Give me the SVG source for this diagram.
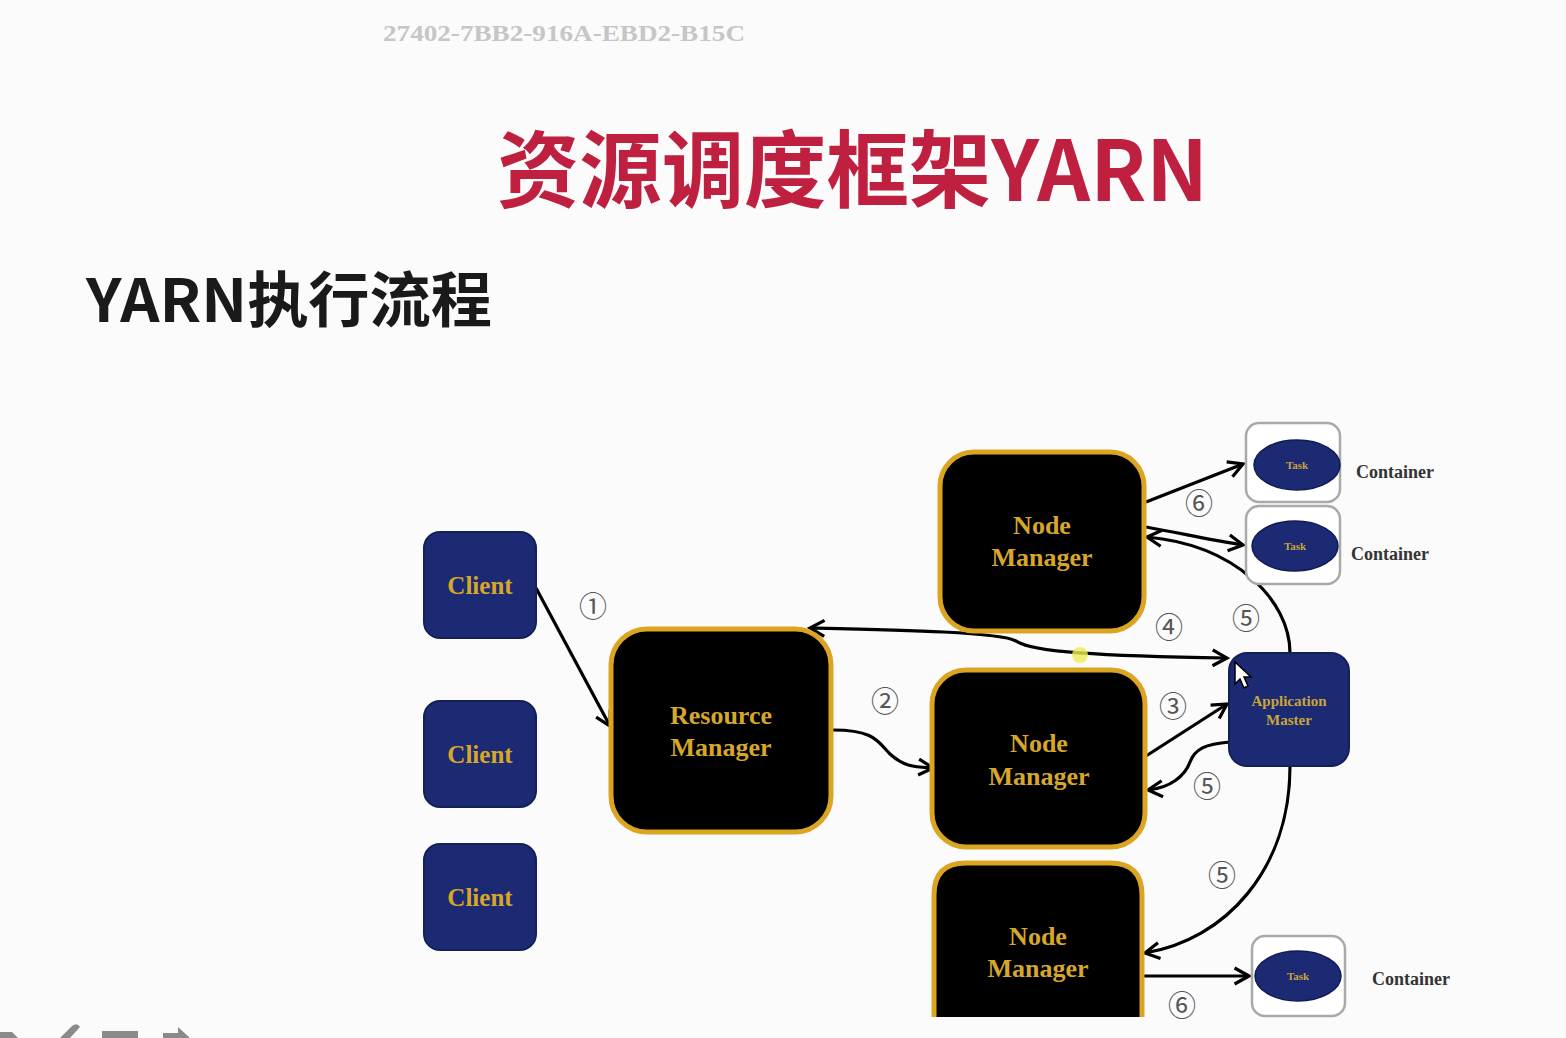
<svg xmlns="http://www.w3.org/2000/svg" width="1566" height="1038" viewBox="0 0 1566 1038">
<style>
.serif{font-family:"Liberation Serif","Times New Roman",serif;font-weight:bold}
.client rect{fill:#1b2a72;stroke:#142058;stroke-width:2}
.client text{fill:#d6a72a;font-size:25px;text-anchor:middle}
.nm rect{fill:#000;stroke:#dba522;stroke-width:5}
.nm text{fill:#d6a72a;font-size:26px;text-anchor:middle}
.cont rect{fill:#fff;stroke:#a9a9a9;stroke-width:2.5}
.cont ellipse{fill:#1b2a72;stroke:#101c55;stroke-width:1.5}
.task{fill:#c9a53a;font-size:11px;text-anchor:middle}
.clabel{fill:#333;font-size:18px}
.num{font-family:"Noto Sans CJK SC","DejaVu Sans",sans-serif;font-size:28px;fill:#555;text-anchor:middle}
.conn path{fill:none;stroke:#000;stroke-width:3.2}
</style>
<defs>
<marker id="ah" viewBox="0 0 12 12" refX="10" refY="6" markerWidth="6" markerHeight="6" markerUnits="strokeWidth" orient="auto-start-reverse">
<path d="M1,1 L10,6 L1,11" fill="none" stroke="#000" stroke-width="2"/>
</marker>
</defs>
<rect width="1566" height="1038" fill="#fbfbfb"/>
<text x="383" y="41" class="serif" font-size="24" fill="#c6c6c6" textLength="362" lengthAdjust="spacingAndGlyphs">27402-7BB2-916A-EBD2-B15C</text>
<text x="497" y="201" font-family="'Noto Sans CJK SC',sans-serif" font-weight="bold" font-size="84" fill="#c0203f" textLength="711" lengthAdjust="spacingAndGlyphs">资源调度框架YARN</text>
<text x="86" y="322" font-family="'Noto Sans CJK SC',sans-serif" font-weight="bold" font-size="60" fill="#1a1a1a" textLength="406" lengthAdjust="spacingAndGlyphs">YARN执行流程</text>

<g class="conn">
<path d="M536,588 L610,726" marker-end="url(#ah)"/>
<path d="M833,730 C875,730 878,742 890,754 C905,768 918,767 933,768" marker-end="url(#ah)"/>
<path d="M810,628 C900,630 1000,632 1016,641 C1032,652 1100,656 1227,658" marker-start="url(#ah)" marker-end="url(#ah)"/>
<path d="M1146,756 L1227,704" marker-end="url(#ah)"/>
<path d="M1230,742 C1205,744 1195,749 1190,762 C1185,776 1170,788 1148,790" marker-end="url(#ah)"/>
<path d="M1290,653 C1290,600 1235,545 1147,537" marker-end="url(#ah)"/>
<path d="M1290,766 C1290,870 1225,940 1145,953" marker-end="url(#ah)"/>
<path d="M1146,502 L1243,464" marker-end="url(#ah)"/>
<path d="M1146,527 C1180,533 1210,540 1243,545" marker-end="url(#ah)"/>
<path d="M1143,976 L1249,976" marker-end="url(#ah)"/>
</g>
<circle cx="1080" cy="655" r="8" fill="#eeee55" opacity="0.8"/>

<g class="num">
<text x="593" y="617">①</text>
<text x="885" y="712">②</text>
<text x="1173" y="717">③</text>
<text x="1169" y="638">④</text>
<text x="1246" y="629">⑤</text>
<text x="1207" y="797">⑤</text>
<text x="1222" y="886">⑤</text>
<text x="1199" y="514">⑥</text>
<text x="1182" y="1016">⑥</text>
</g>

<g id="client1" class="client serif"><rect x="424" y="532" width="112" height="106" rx="16"/><text x="480" y="594">Client</text></g>
<g id="client2" class="client serif"><rect x="424" y="701" width="112" height="106" rx="16"/><text x="480" y="763">Client</text></g>
<g id="client3" class="client serif"><rect x="424" y="844" width="112" height="106" rx="16"/><text x="480" y="906">Client</text></g>

<g id="rm" class="nm serif"><rect x="611" y="629" width="220" height="203" rx="36"/><text x="721" y="724">Resource</text><text x="721" y="756">Manager</text></g>
<g id="nm1" class="nm serif"><rect x="940" y="452" width="204" height="179" rx="34"/><text x="1042" y="534">Node</text><text x="1042" y="566">Manager</text></g>
<g id="nm2" class="nm serif"><rect x="932" y="670" width="213" height="177" rx="34"/><text x="1039" y="752">Node</text><text x="1039" y="785">Manager</text></g>
<g id="nm3" class="nm serif"><path d="M934,1017 L934,895 Q934,863 966,863 L1110,863 Q1142,863 1142,895 L1142,1017" fill="#000" stroke="#dba522" stroke-width="5"/><text x="1038" y="945">Node</text><text x="1038" y="977">Manager</text></g>

<g id="am" class="serif"><rect x="1229" y="653" width="120" height="113" rx="18" fill="#1b2a72" stroke="#142058" stroke-width="2"/><text x="1289" y="706" fill="#c9a53a" font-size="15" text-anchor="middle">Application</text><text x="1289" y="725" fill="#c9a53a" font-size="15" text-anchor="middle">Master</text></g>

<g id="container1" class="cont serif"><rect x="1246" y="423" width="94" height="79" rx="13"/><ellipse cx="1297" cy="465" rx="43" ry="25"/><text class="task" x="1297" y="469">Task</text><text class="clabel" x="1356" y="478">Container</text></g>
<g id="container2" class="cont serif"><rect x="1246" y="506" width="94" height="78" rx="13"/><ellipse cx="1295" cy="546" rx="43" ry="25"/><text class="task" x="1295" y="550">Task</text><text class="clabel" x="1351" y="560">Container</text></g>
<g id="container3" class="cont serif"><rect x="1252" y="936" width="93" height="80" rx="13"/><ellipse cx="1298" cy="976" rx="43" ry="25"/><text class="task" x="1298" y="980">Task</text><text class="clabel" x="1372" y="985">Container</text></g>

<path d="M1235,662 L1235,684 L1240,679 L1244,688 L1248,686 L1244,677 L1251,677 Z" fill="#fff" stroke="#000" stroke-width="1.5"/>

<g fill="#8a8a8a">
<path d="M0,1032 L12,1032 L18,1038 L0,1038 Z"/>
<path d="M60,1038 L72,1026 Q77,1022 80,1027 L70,1038 Z"/>
<rect x="102" y="1031" width="36" height="7"/>
<path d="M163,1033 L178,1033 L178,1027 L190,1038 L163,1038 Z"/>
</g>
</svg>
